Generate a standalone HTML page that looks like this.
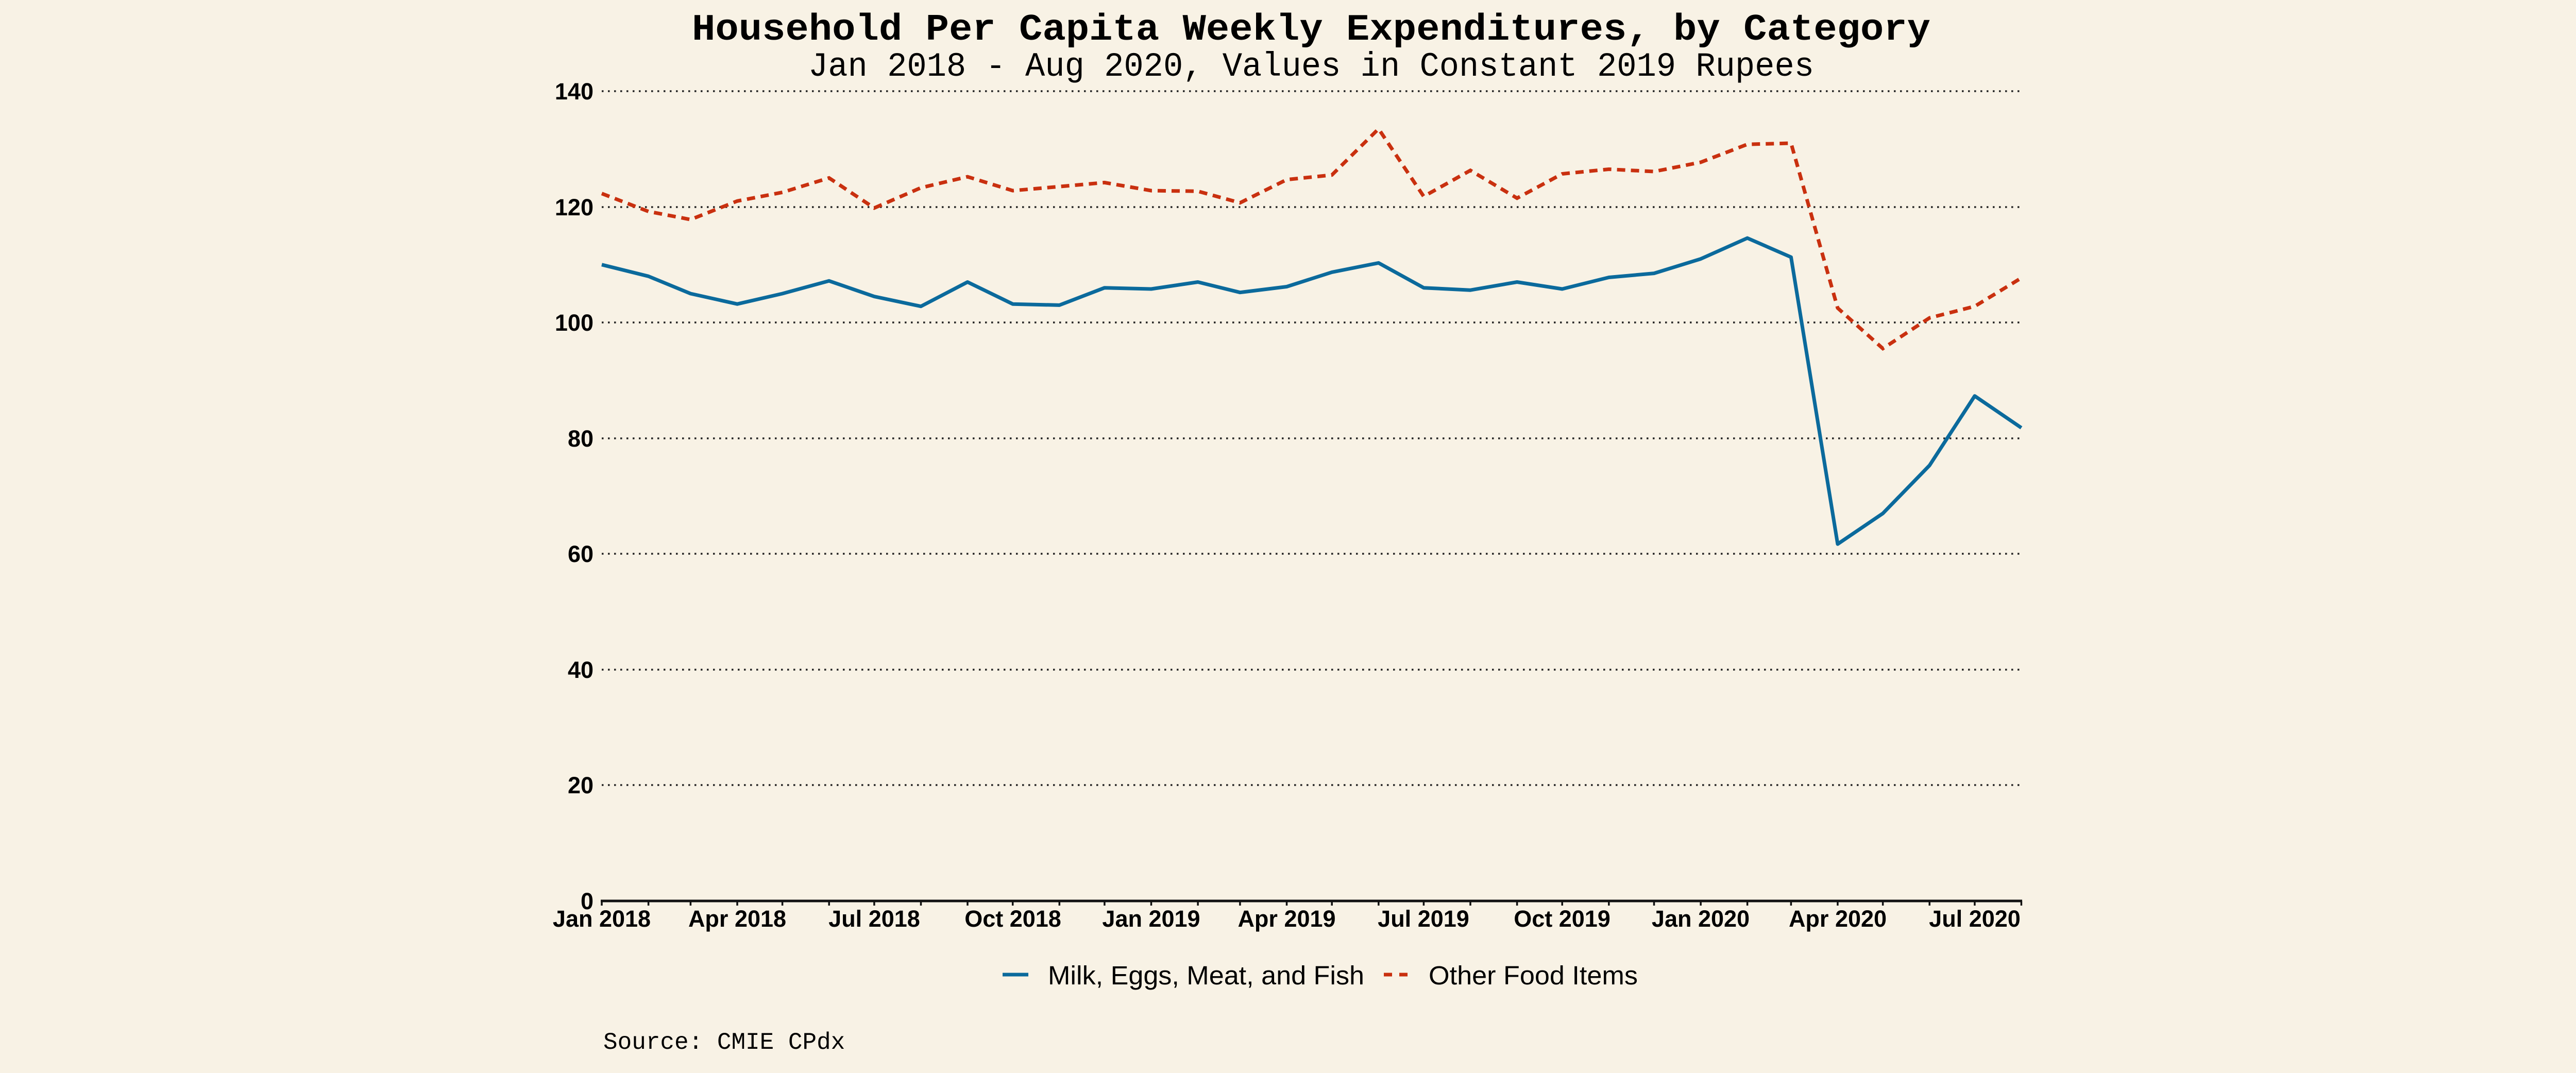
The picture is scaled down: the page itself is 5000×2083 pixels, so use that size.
<!DOCTYPE html>
<html><head><meta charset="utf-8"><style>
html,body{margin:0;padding:0;background:#F8F2E5;}
svg{display:block;}
</style></head><body>
<svg width="5000" height="2083" viewBox="0 0 5000 2083" xmlns="http://www.w3.org/2000/svg">
<rect width="5000" height="2083" fill="#F8F2E5"/>
<text x="2545" y="77" text-anchor="middle" font-family="Liberation Mono, monospace" font-weight="bold" font-size="72" textLength="2404" lengthAdjust="spacingAndGlyphs">Household Per Capita Weekly Expenditures, by Category</text>
<text x="2545" y="147" text-anchor="middle" font-family="Liberation Mono, monospace" font-size="66" textLength="1952" lengthAdjust="spacingAndGlyphs">Jan 2018 - Aug 2020, Values in Constant 2019 Rupees</text>
<g stroke="#222" stroke-width="3.5" stroke-dasharray="3.5 8.5" fill="none">
<line x1="1168" y1="177" x2="3923" y2="177"/>
<line x1="1168" y1="402" x2="3923" y2="402"/>
<line x1="1168" y1="626" x2="3923" y2="626"/>
<line x1="1168" y1="851" x2="3923" y2="851"/>
<line x1="1168" y1="1075" x2="3923" y2="1075"/>
<line x1="1168" y1="1300" x2="3923" y2="1300"/>
<line x1="1168" y1="1524" x2="3923" y2="1524"/>
</g>
<g font-family="Liberation Sans, sans-serif" font-weight="bold" font-size="45" text-anchor="end">
<text x="1152" y="193">140</text>
<text x="1152" y="418">120</text>
<text x="1152" y="642">100</text>
<text x="1152" y="867">80</text>
<text x="1152" y="1091">60</text>
<text x="1152" y="1316">40</text>
<text x="1152" y="1540">20</text>
<text x="1152" y="1765">0</text>
</g>
<line x1="1166" y1="1749" x2="3925" y2="1749" stroke="#111" stroke-width="5"/>
<g stroke="#111" stroke-width="3.5">
<line x1="1168" y1="1749" x2="1168" y2="1758"/><line x1="1258.6" y1="1749" x2="1258.6" y2="1758"/><line x1="1340.4" y1="1749" x2="1340.4" y2="1758"/><line x1="1431" y1="1749" x2="1431" y2="1758"/><line x1="1518.6" y1="1749" x2="1518.6" y2="1758"/><line x1="1609.2" y1="1749" x2="1609.2" y2="1758"/><line x1="1696.9" y1="1749" x2="1696.9" y2="1758"/><line x1="1787.5" y1="1749" x2="1787.5" y2="1758"/><line x1="1878" y1="1749" x2="1878" y2="1758"/><line x1="1965.7" y1="1749" x2="1965.7" y2="1758"/><line x1="2056.3" y1="1749" x2="2056.3" y2="1758"/><line x1="2143.9" y1="1749" x2="2143.9" y2="1758"/>
<line x1="2234.5" y1="1749" x2="2234.5" y2="1758"/><line x1="2325.1" y1="1749" x2="2325.1" y2="1758"/><line x1="2406.9" y1="1749" x2="2406.9" y2="1758"/><line x1="2497.5" y1="1749" x2="2497.5" y2="1758"/><line x1="2585.2" y1="1749" x2="2585.2" y2="1758"/><line x1="2675.8" y1="1749" x2="2675.8" y2="1758"/><line x1="2763.4" y1="1749" x2="2763.4" y2="1758"/><line x1="2854" y1="1749" x2="2854" y2="1758"/><line x1="2944.6" y1="1749" x2="2944.6" y2="1758"/><line x1="3032.2" y1="1749" x2="3032.2" y2="1758"/><line x1="3122.8" y1="1749" x2="3122.8" y2="1758"/><line x1="3210.5" y1="1749" x2="3210.5" y2="1758"/>
<line x1="3301.1" y1="1749" x2="3301.1" y2="1758"/><line x1="3391.6" y1="1749" x2="3391.6" y2="1758"/><line x1="3476.4" y1="1749" x2="3476.4" y2="1758"/><line x1="3566.9" y1="1749" x2="3566.9" y2="1758"/><line x1="3654.6" y1="1749" x2="3654.6" y2="1758"/><line x1="3745.2" y1="1749" x2="3745.2" y2="1758"/><line x1="3832.9" y1="1749" x2="3832.9" y2="1758"/><line x1="3923.4" y1="1749" x2="3923.4" y2="1758"/>
</g>
<g font-family="Liberation Sans, sans-serif" font-weight="bold" font-size="45" text-anchor="middle">
<text x="1168" y="1799">Jan 2018</text>
<text x="1431" y="1799">Apr 2018</text>
<text x="1697" y="1799">Jul 2018</text>
<text x="1966" y="1799">Oct 2018</text>
<text x="2234.5" y="1799">Jan 2019</text>
<text x="2497.5" y="1799">Apr 2019</text>
<text x="2763" y="1799">Jul 2019</text>
<text x="3032" y="1799">Oct 2019</text>
<text x="3301" y="1799">Jan 2020</text>
<text x="3567" y="1799">Apr 2020</text>
<text x="3833" y="1799">Jul 2020</text>
</g>
<polyline fill="none" stroke="#0B6A9C" stroke-width="7" stroke-linejoin="round" points="1168,513.8 1258.6,536.3 1340.4,570 1431,590.2 1518.6,570 1609.2,545.3 1696.9,575.6 1787.5,594.7 1878,547.5 1965.7,590.2 2056.3,592.4 2143.9,558.7 2234.5,561 2325.1,547.5 2406.9,567.7 2497.5,556.5 2585.2,528.4 2675.8,510.4 2763.4,558.7 2854,563.2 2944.6,547.5 3032.2,561 3122.8,538.5 3210.5,530.6 3301.1,502.6 3391.6,462.2 3476.4,499.2 3566.9,1056.2 3654.6,996.7 3745.2,903.5 3832.9,768.7 3923.4,830.5"/>
<polyline fill="none" stroke="#C9300F" stroke-width="7" stroke-dasharray="16 11" points="1168,375.7 1258.6,410.5 1340.4,426.2 1431,390.3 1518.6,373.4 1609.2,345.4 1696.9,403.8 1787.5,364.5 1878,343.1 1965.7,370.1 2056.3,362.2 2143.9,354.4 2234.5,370.1 2325.1,371.2 2406.9,393.7 2497.5,348.7 2585.2,339.7 2675.8,250.1 2763.4,381.3 2854,330.8 2944.6,384.7 3032.2,337.5 3122.8,328.5 3210.5,333 3301.1,315 3391.6,280.2 3476.4,278 3566.9,598 3654.6,676.6 3745.2,617.1 3832.9,594.7 3923.4,539.6"/>
<line x1="1946" y1="1892" x2="1996" y2="1892" stroke="#0B6A9C" stroke-width="7"/>
<line x1="2686" y1="1892" x2="2732" y2="1892" stroke="#C9300F" stroke-width="7" stroke-dasharray="16 14"/>
<g font-family="Liberation Sans, sans-serif" font-size="51">
<text x="2034" y="1911" textLength="614" lengthAdjust="spacingAndGlyphs">Milk, Eggs, Meat, and Fish</text>
<text x="2773" y="1911" textLength="406" lengthAdjust="spacingAndGlyphs">Other Food Items</text>
</g>
<text x="1171" y="2036" font-family="Liberation Mono, monospace" font-size="46">Source: CMIE CPdx</text>
</svg>
</body></html>
